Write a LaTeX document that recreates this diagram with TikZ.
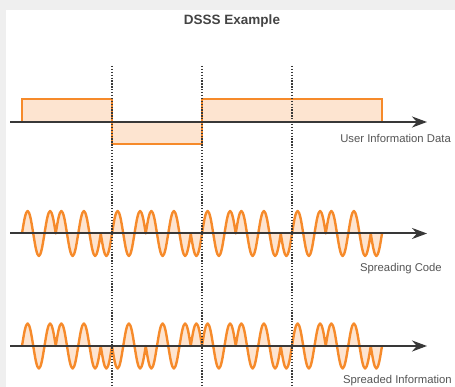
\documentclass[tikz,border=0pt]{standalone}
\usepackage{fontspec}
\setmainfont{Liberation Sans}
\usetikzlibrary{arrows.meta}
\definecolor{wavec}{HTML}{F68A2A}
\definecolor{fillc}{HTML}{FDE4D0}
\definecolor{axisc}{HTML}{383838}
\definecolor{textc}{HTML}{555555}
\definecolor{titlec}{HTML}{444444}
\definecolor{bgc}{HTML}{EFEFEF}
\tikzset{
  axisline/.style={draw=axisc, line width=2pt, -{Stealth[length=15pt,width=11pt]}},
  sigline/.style={draw=wavec, fill=fillc, line width=2.4pt, line join=round},
  bitline/.style={draw=axisc, line width=1.6pt, dash pattern=on 1.3pt off 1.6pt},
  lbl/.style={text=textc, font=\fontsize{11.3}{13}\selectfont, anchor=east, inner sep=0pt},
  ttl/.style={text=titlec, font=\fontsize{13.5}{15}\bfseries, inner sep=0pt}
}
\newcommand\chipwave[2]{%
  \filldraw[sigline] (22,#1) foreach \s [count=\i from 0] in {#2} {
    sin ({22+\i*11.25+5.625},{#1-\s*22.5}) cos ({22+(\i+1)*11.25},#1) };
}
\begin{document}
\begin{tikzpicture}[x=1pt,y=-1pt]
\useasboundingbox (0,0) rectangle (455,387);
\fill[bgc] (0,0) rectangle (455,387);
\fill[white] (6,10) rectangle (455,387);

\node[ttl] (title) at (232,21) {DSSS Example};

% row 1: user data
\filldraw[sigline, line width=2pt, line join=miter] (22,122) -- (22,99) -- (112,99) -- (112,144) -- (202,144) -- (202,99) -- (382,99) -- (382,122);
\coordinate (a1s) at (10,122);
\coordinate (a1e) at (427,122);
\draw[axisline] (a1s) -- (a1e);
\node[lbl] (l1) at (451,138) {User Information Data};

% row 2: spreading code
\chipwave{233.5}{1,-1,1,1,-1,1,-1,-1, 1,-1,1,1,-1,1,-1,-1, 1,-1,1,1,-1,1,-1,-1, 1,-1,1,1,-1,1,-1,-1}
\coordinate (a2s) at (10,233.5);
\coordinate (a2e) at (427,233.5);
\draw[axisline] (a2s) -- (a2e);
\node[lbl] (l2) at (442,269) {Spreading Code};

% row 3: spreaded information
\chipwave{346}{1,-1,1,1,-1,1,-1,-1, -1,1,-1,-1,1,-1,1,1, 1,-1,1,1,-1,1,-1,-1, 1,-1,1,1,-1,1,-1,-1}
\coordinate (a3s) at (10,346);
\coordinate (a3e) at (427,346);
\draw[axisline] (a3s) -- (a3e);
\node[lbl] (l3) at (452,381) {Spreaded Information};

% bit boundaries
\foreach \x [count=\k] in {112,202,292} {
  \coordinate (t\k) at (\x,66);
  \coordinate (b\k) at (\x,387);
  \draw[bitline] (t\k) -- (b\k);
}
\end{tikzpicture}
\end{document}
